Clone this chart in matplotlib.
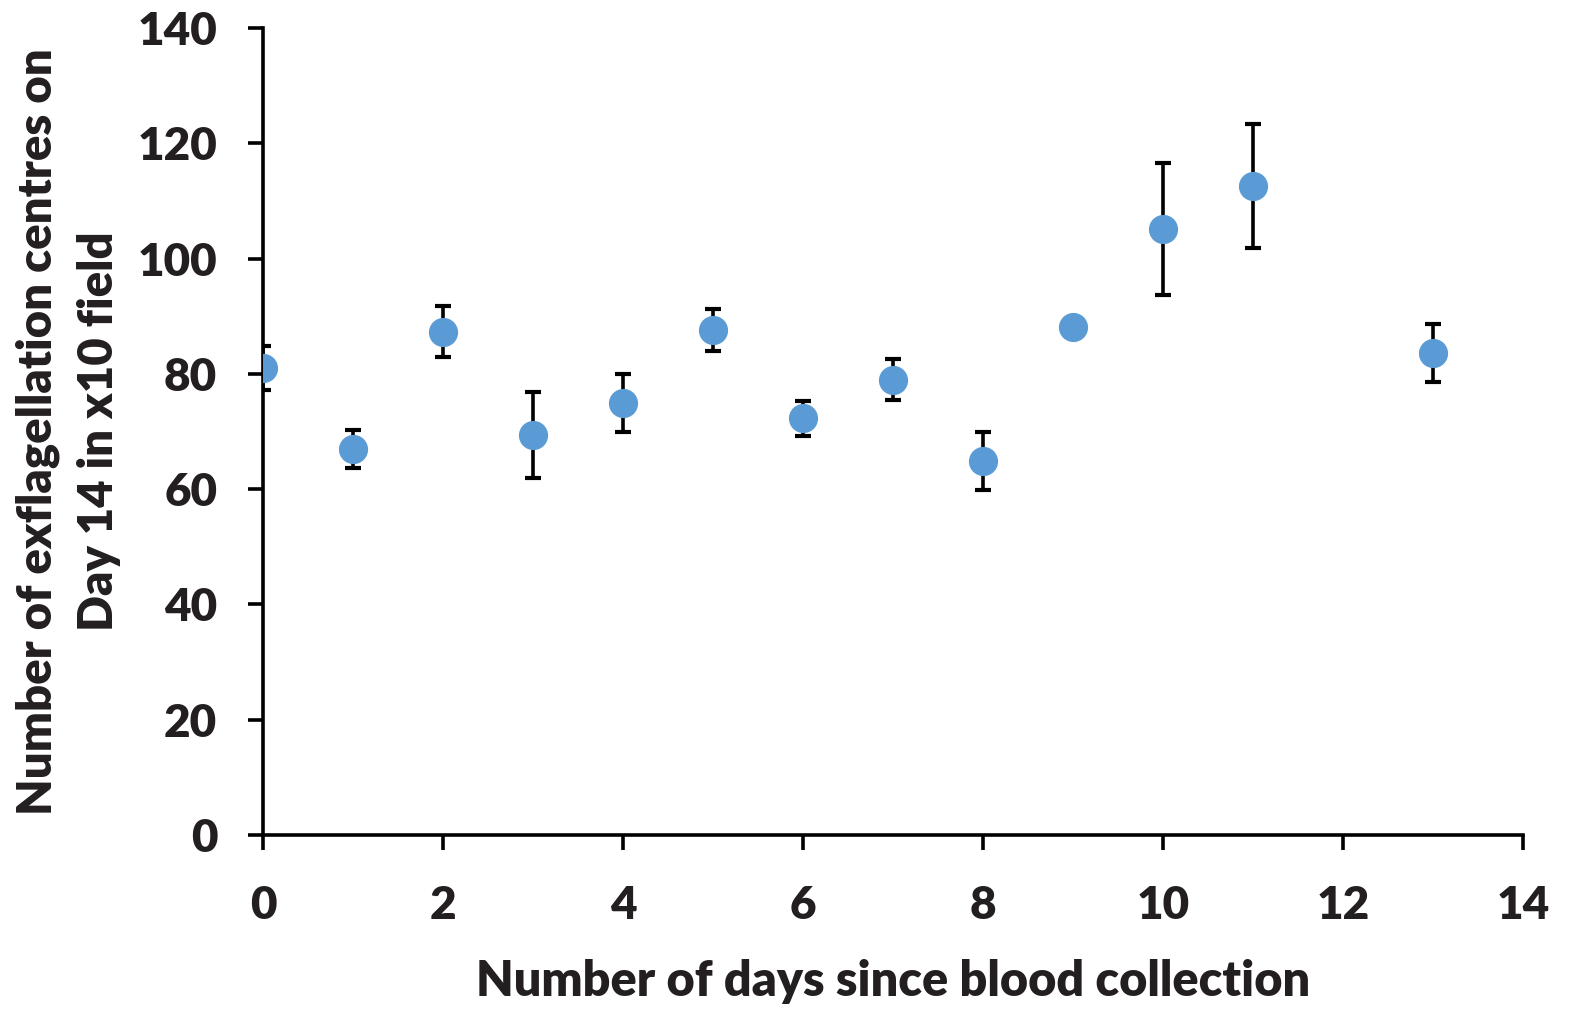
import matplotlib
matplotlib.use('Agg')
from matplotlib import pyplot as plt

# 数据：天数、均值、误差
days = [0, 1, 2, 3, 4, 5, 6, 7, 8, 9, 10, 11, 13]
centres = [81.0, 67.0, 87.3, 69.4, 74.9, 87.6, 72.3, 79.0, 64.9, 88.2, 105.1, 112.6, 83.6]
errors = [3.8, 3.3, 4.4, 7.5, 5.0, 3.7, 3.0, 3.5, 5.0, 0.0, 11.4, 10.8, 5.0]

x_ticks = [0, 2, 4, 6, 8, 10, 12, 14]
y_ticks = [0, 20, 40, 60, 80, 100, 120, 140]

text_color = '#231f20'
plt.rcParams['font.family'] = ['Lato', 'DejaVu Sans']
plt.rcParams['font.weight'] = 'heavy'

fig = plt.figure(figsize=(15.76, 10.10), dpi=100)
ax = fig.add_axes([0.1669, 0.1733, 0.7995, 0.7990])

ax.errorbar(days, centres, yerr=errors, fmt='o', color='#5b9bd5',
            markersize=20, ecolor='black', elinewidth=2.6, capsize=5.5,
            capthick=3, zorder=3)

ax.set_xlim(0, 14)
ax.set_ylim(0, 140)
ax.set_xticks(x_ticks)
ax.set_yticks(y_ticks)

for s in ['top', 'right']:
    ax.spines[s].set_visible(False)
for s in ['left', 'bottom']:
    ax.spines[s].set_linewidth(2.6)
    ax.spines[s].set_color('black')
ax.spines['left'].set_zorder(1)

ax.tick_params(axis='both', direction='out', length=11, width=2.6,
               colors='black', labelcolor=text_color, labelsize=33)
ax.tick_params(axis='y', pad=22)
ax.tick_params(axis='x', pad=25)
for lab in ax.get_xticklabels() + ax.get_yticklabels():
    lab.set_fontweight('heavy')

ax.set_xlabel('Number of days since blood collection', fontsize=35,
              fontweight='heavy', color=text_color, labelpad=24)
ax.set_ylabel('Number of exflagellation centres on\nDay 14 in x10 field',
              fontsize=34, fontweight='heavy', color=text_color,
              linespacing=1.45)
ax.yaxis.set_label_coords(-0.113, 0.5)

fig.savefig('out.png', dpi=100)
